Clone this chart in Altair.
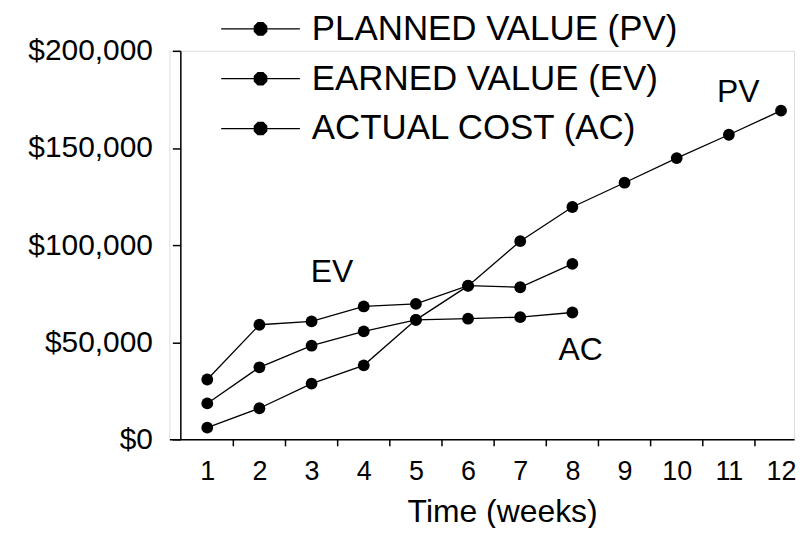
import altair as alt
import pandas as pd

weeks_pv = [1, 2, 3, 4, 5, 6, 7, 8, 9, 10, 11, 12]
pv = [6000, 16000, 28700, 38100, 61500, 79000, 102000, 119600, 132100, 144800, 156800, 169200]
weeks_ev = [1, 2, 3, 4, 5, 6, 7, 8]
ev = [30800, 59000, 60700, 68400, 69700, 79100, 78300, 90300]
weeks_ac = [1, 2, 3, 4, 5, 6, 7, 8]
ac = [18500, 37100, 48200, 55600, 61500, 62100, 62900, 65300]

series_names = ["PLANNED VALUE (PV)", "EARNED VALUE (EV)", "ACTUAL COST (AC)"]
ann_text = ["PV", "EV", "AC"]
ann_x = [11.18, 3.39, 8.16]
ann_y = [179000, 86200, 46200]

x_labels = list(range(1, 13))
x_ticks = [k + 0.5 for k in range(1, 12)]
y_ticks = [0, 50000, 100000, 150000, 200000]

rows = []
for w, v in zip(weeks_pv, pv):
    rows.append({"week": w, "value": v, "series": series_names[0]})
for w, v in zip(weeks_ev, ev):
    rows.append({"week": w, "value": v, "series": series_names[1]})
for w, v in zip(weeks_ac, ac):
    rows.append({"week": w, "value": v, "series": series_names[2]})
df = pd.DataFrame(rows)
ann = pd.DataFrame({"t": ann_text, "x": ann_x, "y": ann_y})
ticks_df = pd.DataFrame({"week": x_ticks})

FONT = "Liberation Sans"

r = 0.17
oct_pts = [(0.924 * r, 0.383 * r), (0.383 * r, 0.924 * r), (-0.383 * r, 0.924 * r), (-0.924 * r, 0.383 * r),
           (-0.924 * r, -0.383 * r), (-0.383 * r, -0.924 * r), (0.383 * r, -0.924 * r), (0.924 * r, -0.383 * r)]
pts = ["%.3f,%.3f" % p for p in oct_pts]
legend_path = "M-1,0L1,0M" + pts[0] + "".join("L" + p for p in pts[1:]) + "Z"

xscale = alt.Scale(domain=[0.274, 12.249], nice=False, zero=False)
yscale = alt.Scale(domain=[0, 200000], nice=False)

xaxis = alt.Axis(
    values=x_labels,
    format="d",
    ticks=False,
    labelPadding=19,
    labelFontSize=27,
    labelFont=FONT,
    labelColor="black",
    labelOverlap=False,
    labelFlush=False,
    labelBound=False,
    grid=False,
    title="Time (weeks)",
    titleFont=FONT,
    titleFontSize=32,
    titleFontWeight="normal",
    titleColor="black",
    titlePadding=12,
    titleX=334,
    domainColor="black",
    domainWidth=1.5,
)
yaxis = alt.Axis(
    values=y_ticks,
    format="$,.0f",
    offset=-11,
    tickSize=8,
    labelPadding=20,
    labelFontSize=30,
    labelFont=FONT,
    labelColor="black",
    grid=False,
    title=None,
    domainColor="black",
    domainWidth=1.5,
    tickColor="black",
    tickWidth=1.5,
)

color = alt.Color(
    "series:N",
    sort=series_names,
    scale=alt.Scale(domain=series_names, range=["black", "black", "black"]),
    legend=alt.Legend(
        title=None,
        orient="none",
        legendX=51,
        legendY=-42,
        symbolType=legend_path,
        symbolSize=6241,
        symbolFillColor="black",
        symbolStrokeColor="black",
        symbolStrokeWidth=1.3,
        clipHeight=40,
        rowPadding=10,
        labelFont=FONT,
        labelFontSize=35,
        labelColor="black",
        labelOffset=11,
        labelLimit=500,
        padding=0,
    ),
)

tick_marks = alt.Chart(ticks_df).mark_rule(color="black", strokeWidth=1.5).encode(
    x=alt.X("week:Q", scale=xscale, axis=xaxis),
    y=alt.value(390),
    y2=alt.value(397),
)

base = alt.Chart(df).encode(
    x=alt.X("week:Q", scale=xscale, axis=xaxis),
    y=alt.Y("value:Q", scale=yscale, axis=yaxis),
    color=color,
    detail="series:N",
)
lines = base.mark_line(strokeWidth=1.3)
points = base.mark_point(filled=True, size=140, opacity=1, shape="circle")

texts = alt.Chart(ann).mark_text(font=FONT, fontSize=32, color="black").encode(
    x=alt.X("x:Q", scale=xscale, axis=xaxis),
    y=alt.Y("y:Q", scale=yscale, axis=yaxis),
    text="t:N",
)

chart = alt.layer(lines, points, texts, tick_marks).properties(
    width=627,
    height=390,
    autosize="none",
    padding={"left": 162, "top": 42, "right": 3, "bottom": 88},
).configure_view(stroke=None).configure(background="white")

chart.save("out.html", embed_options={"renderer": "svg", "actions": False})
